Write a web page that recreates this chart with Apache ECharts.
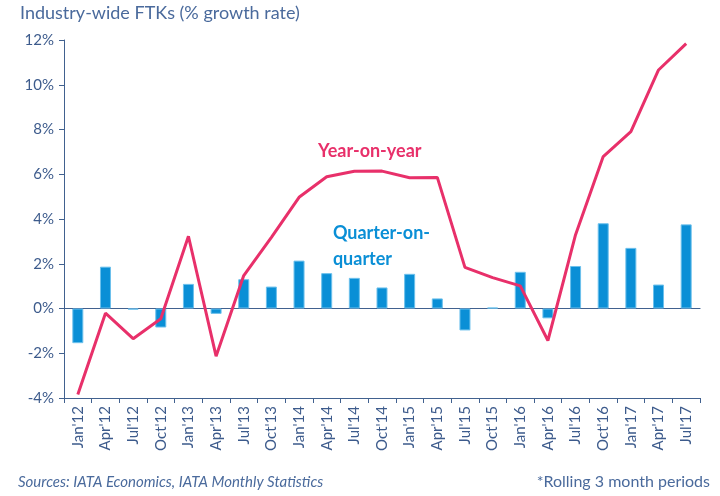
<!DOCTYPE html>
<html>
<head>
<meta charset="utf-8">
<script src="https://cdn.jsdelivr.net/npm/echarts@6/dist/echarts.min.js"></script>
<style>
  html, body { margin: 0; padding: 0; background: #fff; }
  #chart { width: 720px; height: 496px; }
</style>
</head>
<body>
<div id="chart"></div>
<script>
  // quarters (rolling 3 month periods)
  const quarters = ['Jan\'12', 'Apr\'12', 'Jul\'12', 'Oct\'12', 'Jan\'13', 'Apr\'13', 'Jul\'13', 'Oct\'13',
    'Jan\'14', 'Apr\'14', 'Jul\'14', 'Oct\'14', 'Jan\'15', 'Apr\'15', 'Jul\'15', 'Oct\'15',
    'Jan\'16', 'Apr\'16', 'Jul\'16', 'Oct\'16', 'Jan\'17', 'Apr\'17', 'Jul\'17'];
  // quarter-on-quarter growth, %
  const qoq = [-1.55, 1.87, -0.05, -0.85, 1.1, -0.24, 1.31, 0.98,
    2.14, 1.58, 1.37, 0.94, 1.55, 0.45, -0.98, 0.04,
    1.64, -0.44, 1.9, 3.81, 2.71, 1.07, 3.76];
  // year-on-year growth, %
  const yoy = [-3.84, -0.21, -1.35, -0.46, 3.23, -2.13, 1.47, 3.18,
    4.97, 5.89, 6.13, 6.14, 5.84, 5.86, 1.84, 1.38,
    1.01, -1.43, 3.3, 6.79, 7.9, 10.66, 11.84];
  const yTicks = { min: -4, max: 12, step: 2 };

  const axisColor = '#41618f';
  const labelColor = '#3d5b8c';
  const font = 'Lato, "Open Sans", sans-serif';

  const chart = echarts.init(document.getElementById('chart'));
  chart.setOption({
    backgroundColor: '#fff',
    animation: false,
    grid: { left: 64, right: 20, top: 40, bottom: 98 },
    xAxis: [{
      type: 'category',
      data: quarters,
      position: 'bottom',
      axisLine: { onZero: false, lineStyle: { color: axisColor, width: 1 } },
      axisTick: { show: true, length: 5, alignWithLabel: false, lineStyle: { color: axisColor } },
      axisLabel: { rotate: 90, interval: 0, color: labelColor, fontSize: 15, fontFamily: font, margin: 8 },
      splitLine: { show: false }
    }, {
      type: 'category',
      data: quarters,
      position: 'bottom',
      axisLine: { onZero: true, lineStyle: { color: axisColor, width: 1.2 } },
      axisTick: { show: false },
      axisLabel: { show: false },
      splitLine: { show: false }
    }],
    yAxis: {
      type: 'value',
      min: yTicks.min,
      max: yTicks.max,
      interval: yTicks.step,
      axisLine: { show: true, lineStyle: { color: axisColor } },
      axisTick: { show: true, length: 5, lineStyle: { color: axisColor } },
      axisLabel: { formatter: '{value}%', color: labelColor, fontSize: 15, fontFamily: font, margin: 10 },
      splitLine: { show: false }
    },
    series: [{
      name: 'Quarter-on-quarter',
      type: 'bar',
      xAxisIndex: 0,
      barWidth: 11,
      itemStyle: { color: '#0a8fd6', borderColor: '#6cc0ec', borderWidth: 1 },
      data: qoq
    }, {
      name: 'Year-on-year',
      type: 'line',
      xAxisIndex: 0,
      symbol: 'none',
      lineStyle: { color: '#e8306a', width: 3 },
      z: 5,
      data: yoy
    }],
    graphic: [{
      type: 'text', left: 20, top: 4,
      style: { text: 'Industry-wide FTKs (% growth rate)', fill: '#4a6a9c', font: '18px ' + font }
    }, {
      type: 'text', left: 318, top: 142,
      style: { text: 'Year-on-year', fill: '#e8306a', font: 'bold 18px ' + font }
    }, {
      type: 'text', right: 290, top: 220,
      style: { text: 'Quarter-on-\nquarter', fill: '#0a8fd6', font: 'bold 18px ' + font, align: 'right', lineHeight: 26 }
    }, {
      type: 'text', left: 18, top: 475,
      style: { text: 'Sources: IATA Economics, IATA Monthly Statistics', fill: '#4a6a9c', font: 'italic 15px ' + font }
    }, {
      type: 'text', right: 10, top: 474,
      style: { text: '*Rolling 3 month periods', fill: '#4a6a9c', font: '16px ' + font }
    }]
  });
</script>
</body>
</html>
